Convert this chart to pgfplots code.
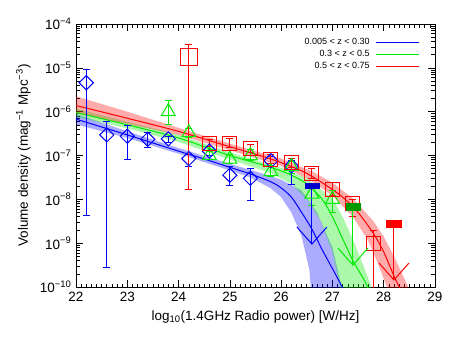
\documentclass[border=0pt]{standalone}
\usepackage{fontspec}
\setmainfont{Liberation Sans}
\usepackage{pgfplots}
\pgfplotsset{compat=1.18}

\definecolor{idlblue}{RGB}{0,0,255}
\definecolor{idlgreen}{RGB}{0,235,0}
\definecolor{idlred}{RGB}{255,0,0}

% upper-limit arrow head
\pgfdeclareplotmark{vhead}{%
  \pgfpathmoveto{\pgfqpoint{-15bp}{17bp}}%
  \pgfpathlineto{\pgfqpoint{0bp}{0bp}}%
  \pgfpathlineto{\pgfqpoint{15bp}{17bp}}%
  \pgfusepathqstroke}

\begin{document}
\fontsize{13.5bp}{16bp}\selectfont
\begin{tikzpicture}
\path[use as bounding box] (-76bp,-50bp) rectangle (382bp,287bp);
\begin{axis}[
    at={(0,0)}, anchor=south west,
    width=359bp, height=263bp, scale only axis,
    xmin=22, xmax=29, ymin=-10, ymax=-4,
    xtick={22,23,24,25,26,27,28,29},
    xticklabels={22,23,24,25,26,27,28,29},
    minor x tick num=9,
    ytick={-10,-9,-8,-7,-6,-5,-4},
    yticklabels={10\textsuperscript{−10},10\textsuperscript{−9},10\textsuperscript{−8},10\textsuperscript{−7},10\textsuperscript{−6},10\textsuperscript{−5},10\textsuperscript{−4}},
    minor ytick={-9.699,-9.523,-9.398,-9.301,-9.222,-9.155,-9.097,-9.046,
                 -8.699,-8.523,-8.398,-8.301,-8.222,-8.155,-8.097,-8.046,
                 -7.699,-7.523,-7.398,-7.301,-7.222,-7.155,-7.097,-7.046,
                 -6.699,-6.523,-6.398,-6.301,-6.222,-6.155,-6.097,-6.046,
                 -5.699,-5.523,-5.398,-5.301,-5.222,-5.155,-5.097,-5.046,
                 -4.699,-4.523,-4.398,-4.301,-4.222,-4.155,-4.097,-4.046},
    tick align=inside,
    major tick length=7bp, minor tick length=3.5bp,
    every tick/.style={black, line width=0.6bp},
    axis line style={line width=0.8bp},
    xlabel={log\textsubscript{10}(1.4GHz Radio power) [W/Hz]},
    ylabel={Volume density (mag\textsuperscript{−1} Mpc\textsuperscript{−3})},
    legend style={draw=none, fill=none, at={(0.958,0.955)}, anchor=north east,
        font=\fontsize{9bp}{10bp}\selectfont, inner sep=0pt, row sep=0bp,
        /tikz/column sep=4bp},
    legend cell align=right,
    legend plot pos=right,
    legend image code/.code={\draw[#1] (0bp,0bp) -- (43bp,0bp);},
    error bars/error bar style={line width=1bp},
    error bars/error mark options={line width=1bp, mark size=3.5bp, rotate=90},
]

% uncertainty bands
\addplot[forget plot, fill=idlblue, fill opacity=0.33, draw=none] coordinates {
    (22,-6.05) (23,-6.45) (24,-6.83) (25,-7.19) (25.6,-7.4) (26.0,-7.55)
    (26.4,-7.8) (26.7,-8.3) (27.0,-9.1) (27.18,-10.0) (27.25,-10.3)
    (26.6,-10.3) (26.55,-9.6) (26.4,-8.85) (26.2,-8.3) (26.0,-7.95)
    (25.8,-7.75) (25.4,-7.5) (25,-7.34) (24,-6.96) (23,-6.6) (22,-6.29)
} -- cycle;
\addplot[forget plot, fill=idlgreen, fill opacity=0.33, draw=none] coordinates {
    (22,-5.93) (23,-6.23) (24,-6.53) (25,-6.93) (26,-7.28) (26.5,-7.52)
    (27.0,-7.98) (27.2,-8.4) (27.4,-8.92) (27.6,-9.5) (27.76,-10.0) (27.85,-10.3)
    (27.22,-10.3) (27.15,-10.0) (27.0,-9.2) (26.76,-8.47) (26.5,-8.0)
    (26.2,-7.65) (25.8,-7.4) (25,-7.09) (24,-6.69) (23,-6.38) (22,-6.12)
} -- cycle;
\addplot[forget plot, fill=idlred, fill opacity=0.33, draw=none] coordinates {
    (22,-5.65) (23,-6.0) (24,-6.37) (25,-6.73) (26,-7.07) (26.6,-7.36)
    (27.0,-7.62) (27.4,-7.98) (27.8,-8.5) (28.0,-8.85) (28.2,-9.3) (28.4,-9.8)
    (28.52,-10.1) (28.58,-10.3)
    (28.15,-10.3) (28.06,-10.0) (27.9,-9.5) (27.7,-8.95) (27.4,-8.4)
    (27.0,-7.92) (26.6,-7.58) (26,-7.24) (25,-6.88) (24,-6.53) (23,-6.28) (22,-6.04)
} -- cycle;

% fits
\addplot[idlblue, line width=1bp, smooth] coordinates {
    (22,-6.17) (23,-6.53) (24,-6.9) (24.5,-7.08) (25,-7.27) (25.4,-7.42)
    (25.8,-7.6) (26.0,-7.74) (26.2,-7.95) (26.4,-8.3) (26.6,-8.68)
    (26.8,-9.15) (27.0,-9.58) (27.2,-10.02) (27.3,-10.25)
};
\addlegendentry{0.005 < z < 0.30}
\addplot[idlgreen, line width=1bp, smooth] coordinates {
    (22,-6.02) (23,-6.3) (24,-6.6) (25,-7.0) (25.8,-7.27) (26.2,-7.45)
    (26.5,-7.65) (26.8,-8.0) (27.0,-8.4) (27.2,-8.9) (27.4,-9.4)
    (27.6,-9.8) (27.7,-10.03) (27.8,-10.3)
};
\addlegendentry{0.3 < z < 0.5}
\addplot[idlred, line width=1bp, smooth] coordinates {
    (22,-5.86) (23,-6.15) (24,-6.45) (25,-6.8) (25.8,-7.08) (26.4,-7.35)
    (26.8,-7.62) (27.2,-7.95) (27.5,-8.3) (27.8,-8.78) (28.0,-9.2)
    (28.2,-9.75) (28.3,-10.0) (28.4,-10.3)
};
\addlegendentry{0.5 < z < 0.75}

% blue diamonds
\addplot[forget plot, idlblue, only marks, line width=1bp, mark=square, mark size=5bp,
    mark options={rotate=45},
    error bars/.cd, y dir=both, y explicit] coordinates {
    (22.2,-5.34) += (0,0.31) -= (0,3.02)
    (22.6,-6.53) += (0,0.30) -= (0,3.02)
    (23.0,-6.56) += (0,0.24) -= (0,0.52)
    (23.4,-6.63) += (0,0.15) -= (0,0.19)
    (23.8,-6.62) += (0,0.06) -= (0,0.08)
    (24.2,-7.07) += (0,0.10) -= (0,0.19)
    (24.6,-6.90) += (0,0.10) -= (0,0.10)
    (25.0,-7.45) += (0,0.19) -= (0,0.23)
    (25.4,-7.52) += (0,0.22) -= (0,0.50)
    (25.8,-7.12) += (0,0.10) -= (0,0.12)
    (26.2,-7.24) += (0,0.12) -= (0,0.42)
};
% green triangles
\addplot[forget plot, idlgreen, only marks, line width=1bp, mark=triangle, mark size=8bp,
    error bars/.cd, y dir=both, y explicit] coordinates {
    (23.8,-6.00) += (0,0.25) -= (0,0.30)
    (24.2,-6.48) += (0,0.10) -= (0,0.10)
    (24.6,-7.00) += (0,0.08) -= (0,0.10)
    (25.0,-7.08) += (0,0.10) -= (0,0.10)
    (25.4,-7.00) += (0,0.14) -= (0,0.12)
    (25.8,-7.37) += (0,0.15) -= (0,0.12)
    (26.2,-7.25) += (0,0.12) -= (0,0.15)
    (26.6,-7.88) += (0,0.20) -= (0,0.25)
    (27.0,-8.00) += (0,0.20) -= (0,0.30)
};
% red squares
\addplot[forget plot, idlred, only marks, line width=1bp, mark=square, mark size=7bp,
    error bars/.cd, y dir=both, y explicit] coordinates {
    (24.6,-6.72) += (0,0.08) -= (0,0.08)
    (25.0,-6.72) += (0,0.10) -= (0,0.10)
    (25.4,-6.84) += (0,0.10) -= (0,0.10)
    (25.8,-7.08) += (0,0.10) -= (0,0.10)
    (26.2,-7.17) += (0,0.10) -= (0,0.10)
    (26.6,-7.41) += (0,0.12) -= (0,0.12)
    (27.0,-7.77) += (0,0.15) -= (0,0.15)
    (27.4,-8.10) += (0,0.10) -= (0,0.30)
    (27.8,-9.00) += (0,0.28) -= (0,1.50)
};
\addplot[forget plot, idlred, only marks, line width=1bp, mark=square, mark size=8.5bp,
    error bars/.cd, y dir=both, y explicit] coordinates {
    (24.2,-4.75) += (0,0.29) -= (0,3.02)
};

% upper limits
\addplot[forget plot, idlblue, line width=1bp] coordinates {(26.6,-7.69) (26.6,-9.02)};
\addplot[forget plot, idlgreen, line width=1bp] coordinates {(27.4,-8.17) (27.4,-9.5)};
\addplot[forget plot, idlred, line width=1bp] coordinates {(28.2,-8.55) (28.2,-9.84)};
\addplot[forget plot, idlblue, only marks, line width=1bp, mark=vhead] coordinates {(26.6,-9.02)};
\addplot[forget plot, idlgreen, only marks, line width=1bp, mark=vhead] coordinates {(27.4,-9.5)};
\addplot[forget plot, idlred, only marks, line width=1bp, mark=vhead] coordinates {(28.2,-9.84)};
\addplot[forget plot, only marks, mark=square*, mark size=7bp, mark options={yscale=0.42, draw=blue!80!black, fill=blue!80!black}] coordinates {(26.6,-7.69)};
\addplot[forget plot, only marks, mark=square*, mark size=7bp, mark options={yscale=0.5, draw=green!60!black, fill=green!60!black}] coordinates {(27.4,-8.17)};
\addplot[forget plot, only marks, mark=square*, mark size=7.5bp, mark options={yscale=0.45, draw=idlred, fill=idlred}] coordinates {(28.2,-8.55)};
\end{axis}
\end{tikzpicture}
\end{document}
